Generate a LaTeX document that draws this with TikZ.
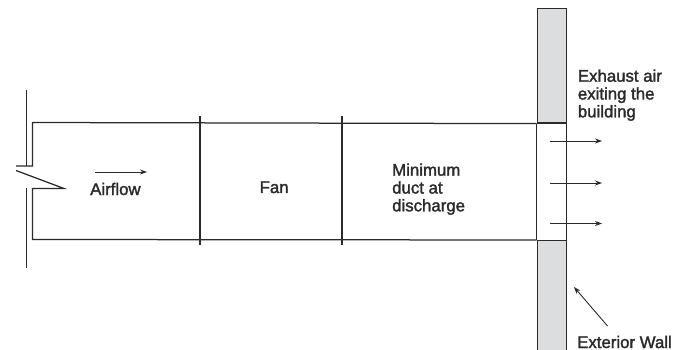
\documentclass[tikz,border=0pt]{standalone}
\usepackage{fontspec}
\setmainfont{Liberation Sans}
\usetikzlibrary{arrows.meta}
\definecolor{ink}{HTML}{2A2A2A}
\definecolor{wallgray}{HTML}{DCDDDE}
\newcommand{\hvy}[1]{\special{pdf:code 2 Tr 0.3 w}#1\special{pdf:code 0 Tr}}
\tikzset{
  duct/.style={draw=ink,line width=1.25pt},
  thin line/.style={draw=ink,line width=1.1pt},
  wallbox/.style={draw=ink,line width=1.1pt,fill=wallgray,inner sep=0pt,minimum width=29pt},
  flow/.style={draw=ink,line width=0.9pt,-{Stealth[length=7pt,width=5pt]}},
  lbl/.style={text=ink,font=\fontsize{16.8}{17.8}\selectfont,inner sep=0pt,align=left}
}
\begin{document}
\begin{tikzpicture}[x=1pt,y=-1pt]
\useasboundingbox (0,0) rectangle (680,350);
% wall
\node[wallbox,anchor=north west,minimum height=114.5pt] (wallT) at (536.5,8) {};
\node[wallbox,anchor=north west,minimum height=109.5pt] (wallB) at (536.5,240) {};
\draw[thin line] (wallT.south west) -- (wallB.north west);
\draw[thin line] (wallT.south east) -- (wallB.north east);
% duct
\coordinate (d1) at (16,166);
\coordinate (d2) at (32.5,166);
\coordinate (d3) at (32.5,122.5);
\coordinate (d4) at (16,170.5);
\coordinate (d5) at (64,188.5);
\coordinate (d6) at (32.5,188.5);
\coordinate (d7) at (32.5,239.5);
\draw[duct] (d1) -- (d2) -- (d3) -- (wallT.south west);
\draw[duct] (d4) -- (d5) -- (d6) -- (d7) -- (wallB.north west);
% flange
\coordinate (f1) at (26.5,90);
\coordinate (f2) at (26.5,166);
\coordinate (f3) at (26.5,188);
\coordinate (f4) at (26.5,268);
\draw[thin line] (f1) -- (f2);
\draw[thin line] (f3) -- (f4);
% fan
\coordinate (fa1) at (200,116);
\coordinate (fa2) at (200,245);
\coordinate (fb1) at (342,116);
\coordinate (fb2) at (342,245);
\draw[duct] (fa1) -- (fa2);
\draw[duct] (fb1) -- (fb2);
% labels
\node[lbl,anchor=base west] (air) at (90,195) {\hvy{Airflow}};
\node[lbl,anchor=base west] (fan) at (259.5,193) {\hvy{Fan}};
\node[lbl,anchor=base west] (min1) at (392,175.7) {\hvy{Minimum}};
\node[lbl,anchor=base west] (min2) at (392,193.5) {\hvy{duct at}};
\node[lbl,anchor=base west] (min3) at (392,211.3) {\hvy{discharge}};
\node[lbl,anchor=base west] (exh1) at (577.7,81.7) {\hvy{Exhaust air}};
\node[lbl,anchor=base west] (exh2) at (577.7,99.5) {\hvy{exiting the}};
\node[lbl,anchor=base west] (exh3) at (577.7,117.3) {\hvy{building}};
\node[lbl,anchor=base west] (ext) at (577,348) {\hvy{Exterior Wall}};
% arrows
\coordinate (a1) at (95,172); \coordinate (a2) at (147,172);
\draw[flow] (a1) -- (a2);
\coordinate (e1) at (549.5,141); \coordinate (e2) at (602,141);
\coordinate (e3) at (549.5,183); \coordinate (e4) at (602,183);
\coordinate (e5) at (549.5,223.5); \coordinate (e6) at (602,223.5);
\draw[flow] (e1) -- (e2);
\draw[flow] (e3) -- (e4);
\draw[flow] (e5) -- (e6);
\coordinate (w1) at (607.5,326); \coordinate (w2) at (574,287);
\draw[flow] (w1) -- (w2);
\end{tikzpicture}
\end{document}
